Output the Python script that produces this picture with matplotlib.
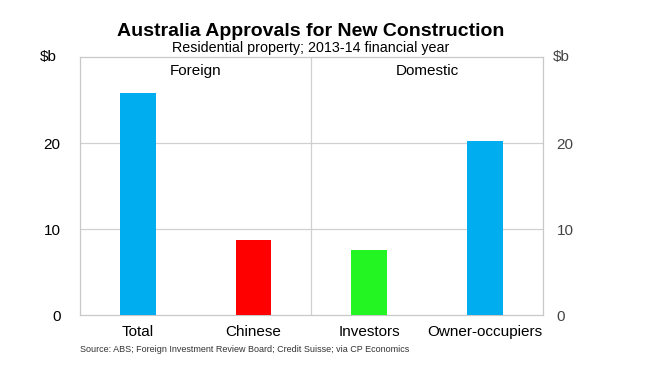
import matplotlib
matplotlib.use("Agg")
import matplotlib.pyplot as plt

categories = ["Total", "Chinese", "Investors", "Owner-occupiers"]
values = [25.8, 8.7, 7.6, 20.3]
colors = ["#00AEEF", "#FF0000", "#22F522", "#00AEEF"]
groups = ["Foreign", "Domestic"]
yticks = [0, 10, 20]

plt.rcParams['font.family'] = ['Liberation Sans', 'DejaVu Sans']

fig = plt.figure(figsize=(6.5, 3.66), dpi=100)
ax = fig.add_axes([0.123, 0.139, 0.712, 0.705])
x = list(range(len(categories)))
ax.bar(x, values, width=0.31, color=colors, zorder=3)
ax.set_xlim(-0.5, 3.5)
ax.set_ylim(0, 30)
ax.set_yticks(yticks)
ax.set_yticklabels([str(t) for t in yticks], fontsize=11)
ax.set_xticks(x)
ax.set_xticklabels(categories, fontsize=11)
ax.tick_params(length=0, pad=7)
ax.tick_params(axis='y', pad=14)
for y in yticks[1:]:
    ax.axhline(y, color="#d0d0d0", lw=0.9, zorder=1)
ax.axvline(1.5, color="#d0d0d0", lw=0.9, zorder=1)
for s in ax.spines.values():
    s.set_color("#c8c8c8")
    s.set_linewidth(0.9)

ax2 = ax.twinx()
ax2.set_ylim(0, 30)
ax2.set_yticks(yticks)
ax2.set_yticklabels([str(t) for t in yticks], fontsize=11, color="#444444")
ax2.tick_params(length=0, pad=10)
for s in ax2.spines.values():
    s.set_visible(False)

ax.text(0.5, 28.4, groups[0], ha="center", va="center", fontsize=11)
ax.text(2.5, 28.4, groups[1], ha="center", va="center", fontsize=11)

fig.text(48/650, 1 - 57/366, "$b", ha="center", va="center", fontsize=11)
fig.text(561/650, 1 - 57/366, "$b", ha="center", va="center", fontsize=11, color="#444444")

fig.text(311/650, 1 - 31/366, "Australia Approvals for New Construction",
         ha="center", va="center", fontsize=14, fontweight="bold")
fig.text(311/650, 1 - 48/366, "Residential property; 2013-14 financial year",
         ha="center", va="center", fontsize=10.3)
fig.text(80/650, 1 - 350/366, "Source: ABS; Foreign Investment Review Board; Credit Suisse; via CP Economics",
         ha="left", va="center", fontsize=6.5, color="#333333")

fig.savefig("out.png", dpi=100)
